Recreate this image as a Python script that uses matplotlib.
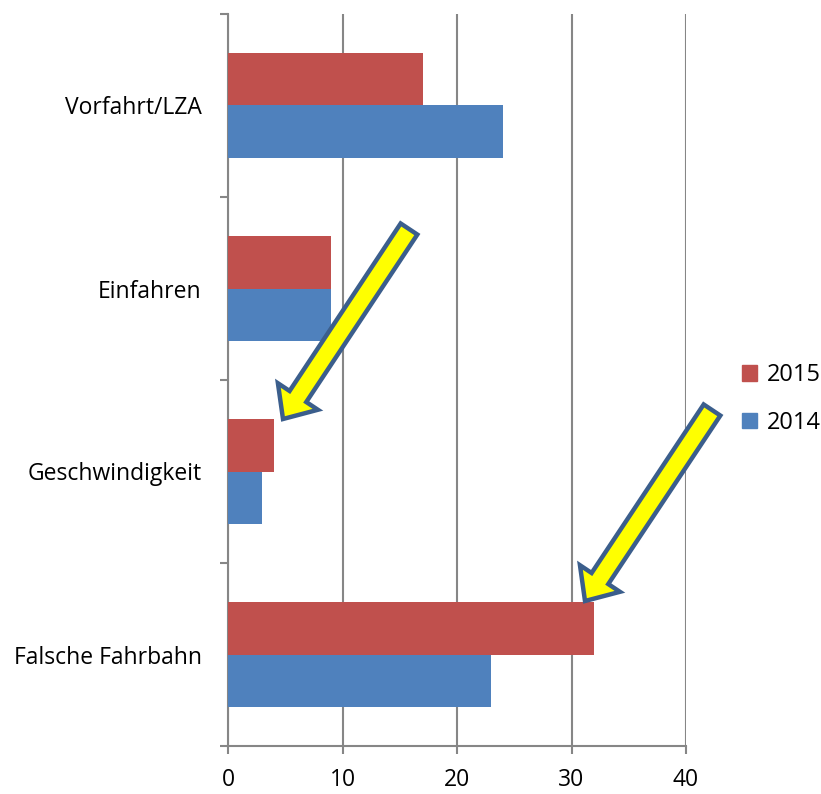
import numpy as np
import matplotlib
matplotlib.use("Agg")
import matplotlib.pyplot as plt
from matplotlib.patches import FancyArrow, Patch
from matplotlib.transforms import Affine2D

categories = ["Falsche Fahrbahn", "Geschwindigkeit", "Einfahren", "Vorfahrt/LZA"]
vals_2015 = [32, 4, 9, 17]
vals_2014 = [23, 3, 9, 24]
series_names = ["2015", "2014"]
x_ticks = [0, 10, 20, 30, 40]

red = "#C0504D"
blue = "#4F81BD"
grey = "#868686"

plt.rcParams["font.family"] = ["Open Sans", "DejaVu Sans"]

W, H = 821, 794
fig = plt.figure(figsize=(W / 100, H / 100), dpi=100)
ax = fig.add_axes([228 / W, 1 - 746 / H, (686 - 228) / W, (746 - 14) / H])

y = np.arange(len(categories))
h = 0.287
ax.barh(y + h / 2, vals_2015, height=h, color=red, zorder=3)
ax.barh(y - h / 2, vals_2014, height=h, color=blue, zorder=3)

ax.set_xlim(0, 40)
ax.set_ylim(-0.5, len(categories) - 0.5)
ax.set_xticks(x_ticks)
ax.set_xticklabels([str(t) for t in x_ticks])
ax.set_yticks(np.arange(-0.5, len(categories), 1.0))
ax.set_yticklabels([])
ax.set_yticks(y, minor=True)
ax.set_yticklabels(categories, minor=True)

ax.tick_params(axis="y", which="major", length=6, width=1.5, color=grey, direction="out")
ax.tick_params(axis="y", which="minor", length=0, pad=19, labelsize=16.5)
ax.tick_params(axis="x", length=6, width=1.5, color=grey, direction="out", pad=10, labelsize=16.5)

ax.grid(axis="x", color=grey, linewidth=1.5, zorder=0)
for s in ["top", "right"]:
    ax.spines[s].set_visible(False)
for s in ["left", "bottom"]:
    ax.spines[s].set_color(grey)
    ax.spines[s].set_linewidth(1.5)

handles = [Patch(color=red), Patch(color=blue)]
fig.legend(handles, series_names, loc="center left", bbox_to_anchor=(742 / W, 1 - 399 / H),
           frameon=False, fontsize=17, handlelength=0.65, handleheight=0.65,
           handletextpad=0.4, labelspacing=1.0, borderpad=0, borderaxespad=0)

# yellow arrows, placed in pixel coordinates
pix = Affine2D().scale(1 / W, -1 / H).translate(0, 1) + fig.transFigure
for (x0, y0), (x1, y1) in [((409, 229), (283, 419)), ((712, 410), (585, 601))]:
    arr = FancyArrow(x0, y0, x1 - x0, y1 - y0, width=20, head_width=48, head_length=27,
                     length_includes_head=True, facecolor="#FFFF00", edgecolor="#3B5E8C",
                     linewidth=3.2, joinstyle="miter", transform=pix, zorder=10)
    fig.add_artist(arr)

fig.savefig("out.png", dpi=100)
